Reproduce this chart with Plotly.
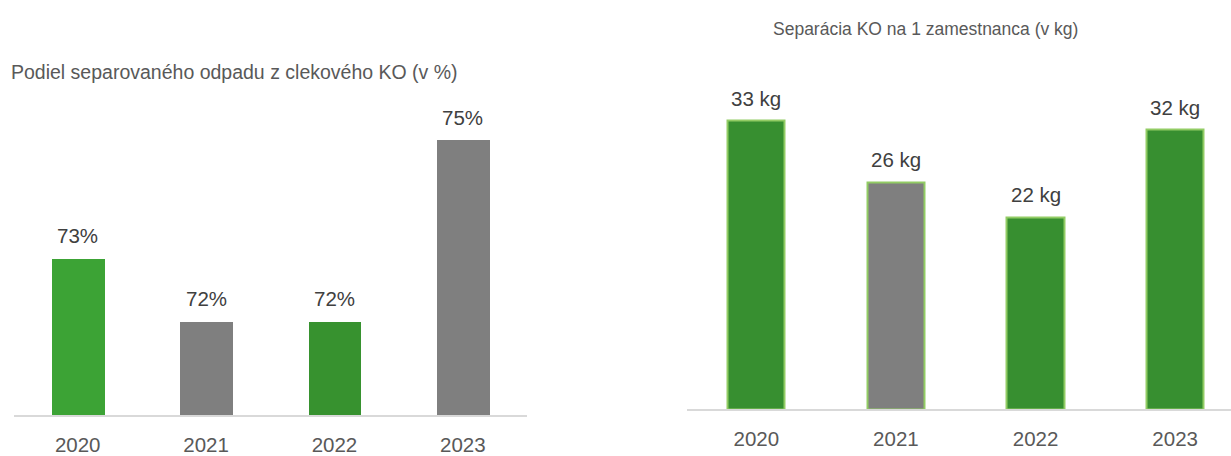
import plotly.graph_objects as go

# Left chart: share of separated waste (%)
YEARS = ["2020", "2021", "2022", "2023"]
SHARE_PCT = [72.85, 71.7, 71.7, 75.0]
SHARE_COLORS = ["#3ca335", "#7f7f7f", "#37922f", "#7f7f7f"]

# Right chart: separated waste per employee (kg)
KG_PER_EMPLOYEE = [33, 26, 22, 32]
KG_COLORS = ["#378f30", "#7f7f7f", "#378f30", "#378f30"]

W, H = 1231, 456
FONT = "Liberation Sans Narrow, Arial Narrow, Liberation Sans, Arial"
LABEL_FONT = dict(size=20.5, color="#404040", family=FONT)


def px_x(x):
    return x / W


def px_y(y):
    return (H - y) / H


fig = go.Figure()

fig.add_trace(
    go.Bar(
        x=YEARS,
        y=SHARE_PCT,
        width=0.41,
        marker=dict(color=SHARE_COLORS, line=dict(width=0)),
        xaxis="x",
        yaxis="y",
        hoverinfo="skip",
    )
)

fig.add_trace(
    go.Bar(
        x=YEARS,
        y=KG_PER_EMPLOYEE,
        width=0.41,
        marker=dict(color=KG_COLORS, line=dict(width=2, color="#92cc64")),
        xaxis="x2",
        yaxis="y2",
        hoverinfo="skip",
    )
)

# value labels above the bars (category axes take the index as position)
for i, v in enumerate(SHARE_PCT):
    fig.add_annotation(x=i, y=v, xref="x", yref="y", text=f"{v:.0f}%",
                       showarrow=False, yanchor="bottom", yshift=9,
                       font=LABEL_FONT)
for i, v in enumerate(KG_PER_EMPLOYEE):
    fig.add_annotation(x=i, y=v, xref="x2", yref="y2", text=f"{v} kg",
                       showarrow=False, yanchor="bottom", yshift=9,
                       font=LABEL_FONT)

axis_common = dict(
    type="category",
    showgrid=False,
    zeroline=False,
    ticks="",
    showline=True,
    linecolor="#d9d9d9",
    linewidth=2,
    tickfont=dict(size=20.5, color="#595959", family=FONT),
    ticklabelstandoff=10,
    fixedrange=True,
)

fig.update_layout(
    width=W,
    height=H,
    margin=dict(l=0, r=0, t=0, b=0),
    paper_bgcolor="white",
    plot_bgcolor="white",
    showlegend=False,
    bargap=0,
    font=dict(family=FONT),
    xaxis=dict(domain=[px_x(13.5), px_x(527)], range=[-0.5, 3.5], **axis_common),
    yaxis=dict(domain=[px_y(417), px_y(96)], range=[70, 75.8], visible=False,
               fixedrange=True),
    xaxis2=dict(domain=[px_x(686.5), 1.0], range=[-0.5, 3.4], anchor="y2",
                **axis_common),
    yaxis2=dict(domain=[px_y(411), px_y(104)], range=[0, 35], visible=False,
                anchor="x2", fixedrange=True),
)

fig.add_annotation(text="Podiel separovaného odpadu z clekového KO (v %)",
                   x=px_x(9), y=px_y(72), xref="paper", yref="paper",
                   xanchor="left", yanchor="middle", showarrow=False,
                   font=dict(size=19.5, color="#595959", family=FONT))
fig.add_annotation(text="Separácia KO na 1 zamestnanca (v kg)",
                   x=px_x(925), y=px_y(29), xref="paper", yref="paper",
                   xanchor="center", yanchor="middle", showarrow=False,
                   font=dict(size=17.5, color="#595959", family=FONT))

fig.write_html(
    "out.html",
    config={"displayModeBar": False},
    post_script="document.body.style.margin='0';document.body.style.overflow='hidden';",
)
